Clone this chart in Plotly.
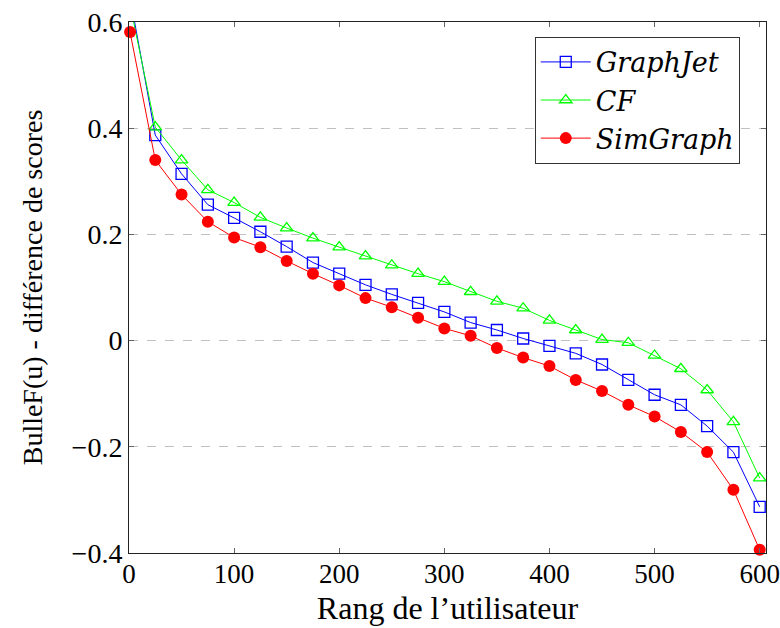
import plotly.graph_objects as go

ranks = [1, 25, 50, 75, 100, 125, 150, 175, 200, 225, 250, 275, 300,
         325, 350, 375, 400, 425, 450, 475, 500, 525, 550, 575, 600]

graphjet = [0.647, 0.387, 0.314, 0.256, 0.231, 0.205, 0.177, 0.147, 0.126,
            0.105, 0.087, 0.071, 0.054, 0.034, 0.020, 0.004, -0.010, -0.024,
            -0.045, -0.074, -0.102, -0.121, -0.161, -0.210, -0.313]

cf = [0.633, 0.402, 0.340, 0.284, 0.260, 0.232, 0.212, 0.193, 0.176,
      0.159, 0.142, 0.126, 0.111, 0.092, 0.074, 0.061, 0.038, 0.020,
      0.002, -0.004, -0.028, -0.053, -0.093, -0.153, -0.259]

simgraph = [0.581, 0.340, 0.275, 0.224, 0.194, 0.176, 0.150, 0.126, 0.104,
            0.080, 0.063, 0.043, 0.023, 0.009, -0.014, -0.032, -0.048,
            -0.074, -0.095, -0.121, -0.143, -0.172, -0.210, -0.281, -0.394]

x_ticks = [0, 100, 200, 300, 400, 500, 600]
y_ticks = [-0.4, -0.2, 0, 0.2, 0.4, 0.6]
y_tick_labels = ["\u22120.4", "\u22120.2", "0", "0.2", "0.4", "0.6"]

FONT = "Liberation Serif"
LEG_FONT = "DejaVu Serif"

fig = go.Figure()
fig.add_trace(go.Scatter(
    x=ranks, y=graphjet, name="<i>GraphJet</i>", mode="lines+markers",
    line=dict(color="#0000ff", width=1),
    marker=dict(symbol="square-open", size=11, color="#0000ff", line=dict(width=1.3)),
))
fig.add_trace(go.Scatter(
    x=ranks, y=cf, name="<i>CF</i>", mode="lines+markers",
    line=dict(color="#00ff00", width=1),
    marker=dict(symbol="triangle-up-open", size=11, color="#00ff00", line=dict(width=1.3)),
))
fig.add_trace(go.Scatter(
    x=ranks, y=simgraph, name="<i>SimGraph</i>", mode="lines+markers",
    line=dict(color="#ff0000", width=1),
    marker=dict(symbol="circle", size=12, color="#ff0000"),
    cliponaxis=False,
))

fig.update_layout(
    width=780, height=628,
    margin=dict(l=129, r=14, t=22, b=75, autoexpand=False),
    paper_bgcolor="white", plot_bgcolor="white",
    font=dict(family=FONT, size=28, color="black"),
    showlegend=True,
    legend=dict(
        x=0.637, y=0.972, xanchor="left", yanchor="top",
        bordercolor="#333333", borderwidth=1, bgcolor="white",
        font=dict(family=LEG_FONT, size=27, color="black"),
        itemwidth=50, tracegroupgap=0,
    ),
    xaxis=dict(
        range=[0, 606], tickvals=x_ticks, ticks="inside", ticklen=5,
        tickcolor="#666666", showline=True, linecolor="#222222", linewidth=1,
        mirror="ticks", showgrid=False, zeroline=False, automargin=False,
        tickfont=dict(family=FONT, size=27),
        title=dict(text="Rang de l\u2019utilisateur", standoff=8,
                   font=dict(family=FONT, size=32)),
        ticklabelstandoff=-3,
    ),
    yaxis=dict(
        range=[-0.4, 0.6], tickvals=y_ticks, ticktext=y_tick_labels,
        ticks="inside", ticklen=5, tickcolor="#666666",
        showline=True, linecolor="#222222", linewidth=1, mirror="ticks",
        showgrid=True, gridcolor="#c0c0c0", griddash="dash", gridwidth=1,
        zeroline=False, automargin=False,
        tickfont=dict(family=FONT, size=28),
        title=dict(text="BulleF(u) - diff\u00e9rence de scores", standoff=20,
                   font=dict(family=FONT, size=28)),
        ticklabelstandoff=0,
    ),
)

fig.write_html("out.html")
